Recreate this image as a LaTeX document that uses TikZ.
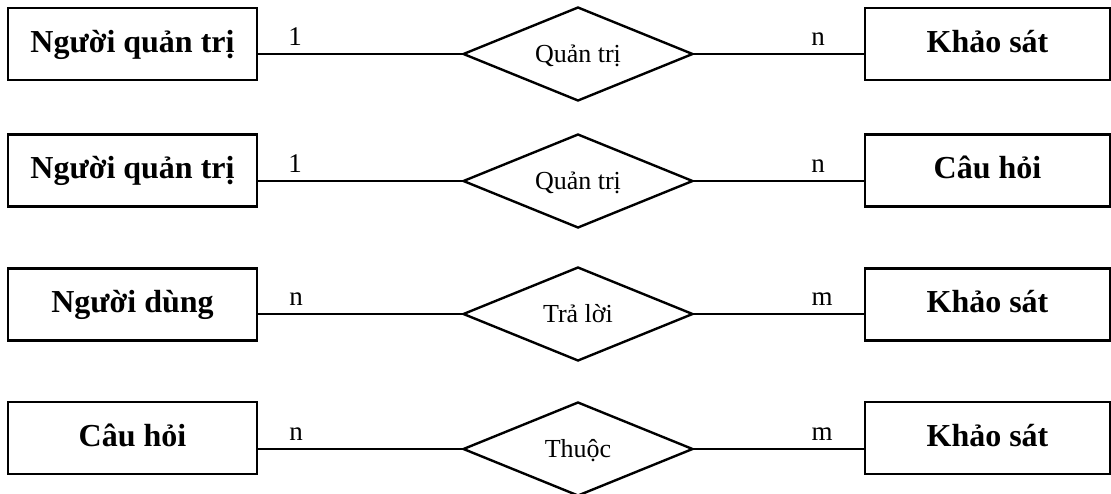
\documentclass[tikz,border=0pt]{standalone}
\usepackage{fontspec}
\setmainfont{Liberation Serif}
\usetikzlibrary{shapes.geometric}
\tikzset{
  entity/.style={draw, line width=2.4pt, minimum width=249pt, minimum height=72pt,
    inner sep=0pt, text height=24pt, text depth=8pt,
    font=\fontsize{32}{36}\bfseries\selectfont},
  rentity/.style={entity, minimum width=245pt},
  relation/.style={draw, diamond, line width=2.4pt, minimum width=230pt, minimum height=94pt,
    inner sep=0pt, fill=white},
  rlabel/.style={font=\fontsize{26}{30}\selectfont, inner sep=0pt, anchor=base},
  link/.style={line width=2.4pt},
  card/.style={font=\fontsize{27}{30}\selectfont, inner sep=0pt, anchor=base}
}
\begin{document}
\begin{tikzpicture}[x=1pt, y=-1pt]
\useasboundingbox (0,0) rectangle (1111,493);

% row 1
\node[entity]   (l1) at (132.5,44)  {Người quản trị};
\node[relation] (d1) at (578,54)    {};
\node[rentity]  (r1) at (987.5,44)  {Khảo sát};
% row 2
\node[entity]   (l2) at (132.5,170.5) {Người quản trị};
\node[relation] (d2) at (578,181)     {};
\node[rentity]  (r2) at (987.5,170.5) {Câu hỏi};
% row 3
\node[entity]   (l3) at (132.5,304.5) {Người dùng};
\node[relation] (d3) at (578,314)     {};
\node[rentity]  (r3) at (987.5,304.5) {Khảo sát};
% row 4
\node[entity]   (l4) at (132.5,438) {Câu hỏi};
\node[relation] (d4) at (578,449)   {};
\node[rentity]  (r4) at (987.5,438) {Khảo sát};

% relationship names, baseline a little below the diamond centre
\node[rlabel] (t1) at ([yshift=-8pt]d1.center) {Quản trị};
\node[rlabel] (t2) at ([yshift=-8pt]d2.center) {Quản trị};
\node[rlabel] (t3) at ([yshift=-8pt]d3.center) {Trả lời};
\node[rlabel] (t4) at ([yshift=-8pt]d4.center) {Thuộc};

% connectors
\foreach \i in {1,2,3,4}{
  \draw[link] (d\i.west -| l\i.east) -- (d\i.west);
  \draw[link] (d\i.east) -- (d\i.east -| r\i.west);
}

% cardinalities
\node[card] (c1a) at (295,45)  {1};
\node[card] (c1b) at (818,45)  {n};
\node[card] (c2a) at (295,172) {1};
\node[card] (c2b) at (818,172) {n};
\node[card] (c3a) at (296,305) {n};
\node[card] (c3b) at (822,305) {m};
\node[card] (c4a) at (296,440) {n};
\node[card] (c4b) at (822,440) {m};
\end{tikzpicture}
\end{document}
